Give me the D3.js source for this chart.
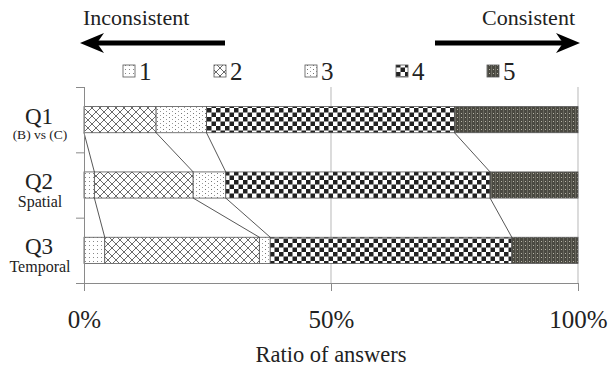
<!DOCTYPE html>
<html>
<head>
<meta charset="utf-8">
<script src="https://cdn.jsdelivr.net/npm/d3@7/dist/d3.min.js"></script>
<style>
  html, body { margin: 0; padding: 0; background: #fff; }
  svg { display: block; }
  text { font-family: "Liberation Serif", "Times New Roman", serif; fill: #222; }
</style>
</head>
<body>
<svg id="chart" width="609" height="370" font-family="Liberation Serif"></svg>
<script>
// ---- data ----
const categories = ["Q1", "Q2", "Q3"];
const subLabels = ["(B) vs (C)", "Spatial", "Temporal"];
const levels = ["1", "2", "3", "4", "5"];
const s1 = [0.0, 2.1, 4.2];
const s2 = [14.6, 20.0, 31.3];
const s3 = [10.2, 6.6, 2.2];
const s4 = [50.2, 53.5, 48.9];
const s5 = [25.0, 17.8, 13.4];
const xTicks = [0, 50, 100];
const xTickLabels = ["0%", "50%", "100%"];
const axisTitle = "Ratio of answers";
const leftLabel = "Inconsistent";
const rightLabel = "Consistent";

const series = [s1, s2, s3, s4, s5];
const rows = categories.map((c, i) => {
  const o = { cat: c };
  levels.forEach((l, j) => o[l] = series[j][i]);
  return o;
});
const stacked = d3.stack().keys(levels)(rows);

const svg = d3.select("#chart");
const defs = svg.append("defs");

// ---- patterns ----
function pat(id, w, h, build) {
  const p = defs.append("pattern").attr("id", id).attr("patternUnits", "userSpaceOnUse")
    .attr("width", w).attr("height", h);
  build(p);
}
pat("p1", 4, 4, p => {
  p.append("rect").attr("width", 4).attr("height", 4).attr("fill", "#fff");
  p.append("rect").attr("x", 1).attr("y", 1).attr("width", 1).attr("height", 1).attr("fill", "#888");
});
pat("p2", 8, 8, p => {
  p.append("rect").attr("width", 8).attr("height", 8).attr("fill", "#fff");
  p.append("path").attr("d", "M0,0L8,8M8,0L0,8").attr("stroke", "#6a6a6a").attr("stroke-width", 1);
});
pat("p3", 6, 4, p => {
  p.append("rect").attr("width", 6).attr("height", 4).attr("fill", "#fff");
  p.append("rect").attr("x", 1).attr("y", 1).attr("width", 1).attr("height", 1).attr("fill", "#777");
  p.append("rect").attr("x", 4).attr("y", 3).attr("width", 1).attr("height", 1).attr("fill", "#999");
});
pat("p4", 9, 9, p => {
  p.append("rect").attr("width", 9).attr("height", 9).attr("fill", "#fff");
  p.append("rect").attr("x", 0).attr("y", 0).attr("width", 4.5).attr("height", 4.5).attr("fill", "#222");
  p.append("rect").attr("x", 4.5).attr("y", 4.5).attr("width", 4.5).attr("height", 4.5).attr("fill", "#222");
});
pat("p5", 4, 4, p => {
  p.append("rect").attr("width", 4).attr("height", 4).attr("fill", "#4a4941");
  p.append("rect").attr("x", 1).attr("y", 1).attr("width", 1).attr("height", 1).attr("fill", "#b8b5a8");
  p.append("rect").attr("x", 3).attr("y", 0).attr("width", 1).attr("height", 4).attr("fill", "#6a6960");
});
const fills = levels.map((l, i) => `url(#p${i + 1})`);

// ---- scales ----
const x = d3.scaleLinear().domain([0, 100]).range([84, 578]);
const y = d3.scaleBand().domain(categories).range([87, 283]).paddingInner(0.6).paddingOuter(0.3);

// ---- grid ----
svg.append("g").selectAll("line").data(xTicks.filter(t => t > 0)).join("line")
  .attr("x1", d => x(d)).attr("x2", d => x(d)).attr("y1", 87).attr("y2", 283)
  .attr("stroke", "#c4c4c4").attr("stroke-width", 1.2);

// ---- bars ----
svg.append("g").selectAll("g").data(stacked).join("g")
  .attr("fill", (d, i) => fills[i])
  .selectAll("rect").data(d => d).join("rect")
  .attr("x", d => x(d[0])).attr("width", d => x(d[1]) - x(d[0]))
  .attr("y", d => y(d.data.cat)).attr("height", y.bandwidth())
  .attr("stroke", "#555").attr("stroke-width", 0.8);

// ---- series lines ----
const conn = [];
for (let k = 0; k < levels.length - 1; k++) {
  const layer = stacked[k];
  for (let i = 0; i < categories.length - 1; i++) {
    conn.push({
      x1: x(layer[i][1]), y1: y(categories[i]) + y.bandwidth(),
      x2: x(layer[i + 1][1]), y2: y(categories[i + 1])
    });
  }
}
svg.append("g").selectAll("line").data(conn).join("line")
  .attr("x1", d => d.x1).attr("y1", d => d.y1).attr("x2", d => d.x2).attr("y2", d => d.y2)
  .attr("stroke", "#444").attr("stroke-width", 0.9);

// ---- axes ----
const xAxis = d3.axisBottom(x).tickValues(xTicks).tickSize(8)
  .tickFormat((d, i) => xTickLabels[i]);
const gx = svg.append("g").attr("transform", "translate(0,283)").call(xAxis);
gx.attr("font-family", "Liberation Serif");
gx.select(".domain").attr("stroke", "#8a8a8a").attr("d", `M76,0.5H${x(100)}`);
gx.selectAll(".tick line").attr("stroke", "#8a8a8a");
gx.selectAll(".tick text").attr("font-family", "Liberation Serif").attr("font-size", 25)
  .attr("fill", "#222").attr("y", 45).attr("dy", 0);

const yAxisG = svg.append("g");
yAxisG.append("line").attr("x1", 84.5).attr("x2", 84.5).attr("y1", 87).attr("y2", 283).attr("stroke", "#8a8a8a");
const bandEdges = [0, 1, 2, 3].map(i => y.range()[0] + i * y.step());
yAxisG.selectAll("line.t").data(bandEdges).join("line").attr("class", "t")
  .attr("x1", 76).attr("x2", 84).attr("y1", d => d + 0.5).attr("y2", d => d + 0.5).attr("stroke", "#8a8a8a");

// y labels
const yl = svg.append("g");
categories.forEach((c, i) => {
  const cy = y(c) + y.bandwidth() / 2;
  yl.append("text").attr("x", 39).attr("y", cy + 4).attr("text-anchor", "middle")
    .attr("font-size", 23).text(c);
  yl.append("text").attr("x", 40).attr("y", cy + (i === 0 ? 19 : 22)).attr("text-anchor", "middle")
    .attr("font-size", i === 0 ? 13.5 : 16).text(subLabels[i]);
});

// axis title
svg.append("text").attr("x", x(50)).attr("y", 362).attr("text-anchor", "middle")
  .attr("font-size", 22.5).text(axisTitle);

// ---- legend ----
const lg = svg.append("g");
levels.forEach((l, i) => {
  const lx = 123 + i * 91;
  lg.append("rect").attr("x", lx).attr("y", 65).attr("width", 12).attr("height", 12)
    .attr("fill", fills[i]).attr("stroke", "#555").attr("stroke-width", 0.8);
  lg.append("text").attr("x", lx + 16).attr("y", 80).attr("font-size", 25).text(l);
});

// ---- top direction arrows ----
svg.append("text").attr("x", 83).attr("y", 25).attr("font-size", 22).text(leftLabel);
svg.append("text").attr("x", 575).attr("y", 25).attr("text-anchor", "end").attr("font-size", 22).text(rightLabel);
const ay = 43;
svg.append("line").attr("x1", 225).attr("x2", 96).attr("y1", ay).attr("y2", ay).attr("stroke", "#000").attr("stroke-width", 5);
svg.append("path").attr("d", `M80,${ay}L104,${ay - 10}L97,${ay}L104,${ay + 10}Z`).attr("fill", "#000");
svg.append("line").attr("x1", 435).attr("x2", 564).attr("y1", ay).attr("y2", ay).attr("stroke", "#000").attr("stroke-width", 5);
svg.append("path").attr("d", `M580,${ay}L556,${ay - 10}L563,${ay}L556,${ay + 10}Z`).attr("fill", "#000");
</script>
</body>
</html>
